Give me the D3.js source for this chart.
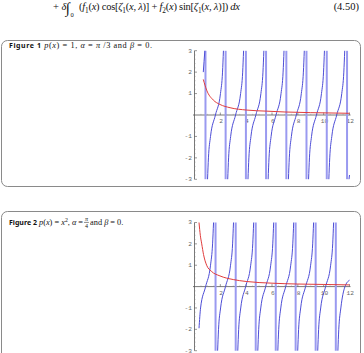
<!DOCTYPE html>
<html><head><meta charset="utf-8">
<script src="https://cdn.jsdelivr.net/npm/d3@7"></script>
<style>html,body{margin:0;padding:0;background:#fff;overflow:hidden}svg{display:block}</style>
</head><body>
<script>
// ---------- data ----------
const xTicks = [2, 4, 6, 8, 10, 12];
const yTicks = [-3, -2, -1, 1, 2, 3];
const yLevels = [-3, -2, -1, 0, 1, 2, 3];

// Figure 1
const fig1RedX = [0.68, 0.94, 1.45, 1.98, 2.75, 4.04, 5.59, 7, 9, 12];
const fig1RedY = [1.66, 1.16, 0.70, 0.49, 0.34, 0.23, 0.18, 0.14, 0.11, 0.08];
const fig1Jumps = [0.85, 2.41, 3.98, 5.54, 7.11, 8.67, 10.24, 11.81];
const fig1HeadX = [0.68, 0.74, 0.80];
const fig1HeadY = [2.0, 2.5, 3.0];
const fig1BranchX = [
  [1.01, 1.08, 1.24, 1.62, 2.01, 2.17, 2.24],
  [2.57, 2.64, 2.80, 3.18, 3.57, 3.73, 3.80],
  [4.14, 4.21, 4.37, 4.75, 5.14, 5.30, 5.37],
  [5.70, 5.77, 5.93, 6.31, 6.70, 6.86, 6.93],
  [7.27, 7.34, 7.50, 7.88, 8.27, 8.43, 8.50],
  [8.83, 8.90, 9.06, 9.44, 9.83, 9.99, 10.06],
  [10.40, 10.47, 10.63, 11.01, 11.40, 11.56, 11.63]
];
const fig1TailX = [11.96, 12.0];
const fig1TailY = [-3.0, -2.8];

// Figure 2
const fig2RedX = [0.35, 0.45, 0.56, 0.7, 0.94, 1.3, 1.97, 3, 4, 6, 8, 10, 12];
const fig2RedY = [3.0, 2.4, 2.0, 1.5, 1.0, 0.72, 0.5, 0.33, 0.24, 0.16, 0.12, 0.1, 0.08];
const fig2Jumps = [1.63, 3.19, 4.74, 6.29, 7.83, 9.38, 10.94];
const fig2HeadX = [0.35, 0.47, 0.86, 1.24, 1.40, 1.475];
const fig2HeadY = [-1.95, -1, 0, 1, 2, 3];
const fig2BranchX = [
  [1.79, 1.86, 2.02, 2.40, 2.79, 2.95, 3.02],
  [3.35, 3.42, 3.58, 3.96, 4.35, 4.51, 4.58],
  [4.90, 4.97, 5.13, 5.51, 5.90, 6.06, 6.13],
  [6.45, 6.52, 6.68, 7.06, 7.45, 7.61, 7.68],
  [7.99, 8.06, 8.22, 8.60, 8.99, 9.15, 9.22],
  [9.54, 9.61, 9.77, 10.15, 10.54, 10.70, 10.77]
];
const fig2TailX = [11.10, 11.17, 11.33, 11.65, 12.0];
const fig2TailY = [-3, -2, -1, 0, 0.3];

// ---------- drawing ----------
const W = 364, H = 353;
const svg = d3.select("body").append("svg").attr("width", W).attr("height", H);

const BLUE = "#4d4dd6", JUMP = "#9a9af0", RED = "#e03c3c", AXIS = "#555", LBL = "#666";

function richText(g, x, y, segs, size, family, anchor) {
  const t = g.append("text").attr("x", x).attr("y", y)
    .attr("font-family", family).attr("font-size", size).attr("fill", "#111")
    .attr("text-anchor", anchor || "start");
  let shift = 0;
  segs.forEach(s => {
    const seg = typeof s === "string" ? {t: s} : s;
    const target = seg.sub ? size * 0.3 : seg.sup ? -size * 0.35 : 0;
    const ts = t.append("tspan").text(seg.t).attr("dy", target - shift);
    shift = target;
    if (seg.i) ts.attr("font-style", "italic");
    if (seg.b) ts.attr("font-weight", "bold");
    if (seg.f) ts.attr("font-family", seg.f);
    if (seg.fs) ts.attr("font-size", seg.fs);
    if (seg.sub || seg.sup) ts.attr("font-size", size * 0.7);
  });
  return t;
}
const SERIF = "'Liberation Serif', serif";
const SANS = "'Noto Sans', sans-serif";

// equation line (cropped page text)
richText(svg, 53, 10, ["+ ", {t: "δ", i: 1}], 10.5, SERIF);
svg.append("text").attr("x", 65.5).attr("y", 13).attr("font-family", SERIF)
  .attr("font-size", 15).attr("font-style", "italic").attr("fill", "#111").text("∫");
svg.append("text").attr("x", 70.5).attr("y", 16.8).attr("font-family", SERIF)
  .attr("font-size", 6.5).attr("fill", "#111").text("0");
richText(svg, 79, 10, [
  "(", {t: "f", i: 1}, {t: "1", sub: 1}, "(", {t: "x", i: 1}, ") cos[", {t: "ζ", i: 1}, {t: "1", sub: 1},
  "(", {t: "x", i: 1}, ", ", {t: "λ", i: 1}, ")] + ", {t: "f", i: 1}, {t: "2", sub: 1}, "(", {t: "x", i: 1},
  ") sin[", {t: "ζ", i: 1}, {t: "1", sub: 1}, "(", {t: "x", i: 1}, ", ", {t: "λ", i: 1}, ")]) ", {t: "dx", i: 1}
], 10.5, SERIF).attr("textLength", 161).attr("lengthAdjust", "spacing");
svg.append("text").attr("x", 359).attr("y", 10).attr("text-anchor", "end")
  .attr("font-family", SERIF).attr("font-size", 10.5).attr("fill", "#111").text("(4.50)");

// boxes
svg.append("rect").attr("x", 1.5).attr("y", 40.5).attr("width", 359).attr("height", 146)
  .attr("rx", 6).attr("fill", "none").attr("stroke", "#8a8a8a").attr("stroke-width", 1);
svg.append("rect").attr("x", 1.5).attr("y", 211.5).attr("width", 359).attr("height", 160)
  .attr("rx", 6).attr("fill", "none").attr("stroke", "#8a8a8a").attr("stroke-width", 1);

// titles
const t1 = richText(svg, 9, 47.8, [{t: "Figure 1", b: 1, f: SANS, fs: 7}, "  ", {t: "p", i: 1}, "(", {t: "x", i: 1}, ") = 1, ",
  {t: "α", i: 1}, " = ", {t: "π", i: 1}, " /3 and ", {t: "β", i: 1}, " = 0."], 8.3, SERIF);
t1.attr("textLength", 143).attr("lengthAdjust", "spacing");

const t2a = richText(svg, 9, 224.5, [{t: "Figure 2", b: 1, f: SANS, fs: 7}, "  ", {t: "p", i: 1}, "(", {t: "x", i: 1}, ") = ",
  {t: "x", i: 1}, {t: "2", sup: 1}, ", ", {t: "α", i: 1}, " = "], 8.3, SERIF);
const wa = t2a.node().getComputedTextLength();
const fx = 9 + wa + 1;
svg.append("text").attr("x", fx + 2.4).attr("y", 221).attr("text-anchor", "middle")
  .attr("font-family", SERIF).attr("font-size", 6).attr("font-style", "italic").attr("fill", "#111").text("π");
svg.append("line").attr("x1", fx).attr("x2", fx + 4.8).attr("y1", 222.4).attr("y2", 222.4)
  .attr("stroke", "#111").attr("stroke-width", 0.5);
svg.append("text").attr("x", fx + 2.4).attr("y", 227.6).attr("text-anchor", "middle")
  .attr("font-family", SERIF).attr("font-size", 6).attr("fill", "#111").text("4");
richText(svg, fx + 6, 224.5, [" and ", {t: "β", i: 1}, " = 0."], 8.3, SERIF);

function drawPlot(cfg) {
  const x = d3.scaleLinear().domain([0, 12]).range([cfg.x0, cfg.x1]);
  const y = d3.scaleLinear().domain([-3, 3]).range([cfg.yBot, cfg.yTop]);
  const g = svg.append("g");
  const clipId = "clip" + cfg.id;
  svg.append("clipPath").attr("id", clipId).append("rect")
    .attr("x", x(0)).attr("y", y(3) - 0.5).attr("width", x(12) - x(0) + 1).attr("height", y(-3) - y(3) + 1);

  // axes
  g.append("line").attr("x1", x(0) - 1.5).attr("x2", x(12) + 1).attr("y1", y(0)).attr("y2", y(0))
    .attr("stroke", AXIS).attr("stroke-width", 0.8);
  g.append("line").attr("x1", x(0)).attr("x2", x(0)).attr("y1", y(-3)).attr("y2", y(3))
    .attr("stroke", AXIS).attr("stroke-width", 0.8);
  // minor ticks
  const xMinor = d3.range(0.5, 12.01, 0.5).filter(v => !xTicks.includes(v));
  g.selectAll(null).data(xMinor).join("line")
    .attr("x1", d => x(d)).attr("x2", d => x(d)).attr("y1", y(0)).attr("y2", y(0) - 1.2)
    .attr("stroke", "#888").attr("stroke-width", 0.4);
  const yMinor = d3.range(-3, 3.001, 0.2).map(v => Math.round(v * 10) / 10).filter(v => Math.abs(v - Math.round(v)) > 0.01);
  g.selectAll(null).data(yMinor).join("line")
    .attr("x1", x(0)).attr("x2", x(0) + 1.2).attr("y1", d => y(d)).attr("y2", d => y(d))
    .attr("stroke", "#888").attr("stroke-width", 0.4);
  // major ticks
  g.selectAll(null).data(xTicks).join("line")
    .attr("x1", d => x(d)).attr("x2", d => x(d)).attr("y1", y(0)).attr("y2", y(0) - 2.5)
    .attr("stroke", AXIS).attr("stroke-width", 0.6);
  g.selectAll(null).data(yTicks).join("line")
    .attr("x1", x(0)).attr("x2", x(0) + 2.5).attr("y1", d => y(d)).attr("y2", d => y(d))
    .attr("stroke", AXIS).attr("stroke-width", 0.6);
  const MONO = "'Liberation Mono', monospace";
  g.selectAll(null).data(xTicks).join("text")
    .attr("x", d => x(d) + 0.8).attr("y", y(0) + 8).attr("text-anchor", "middle")
    .attr("font-family", MONO).attr("font-size", 6.2).attr("fill", LBL).text(d => d);
  g.selectAll(null).data(yTicks).join("text")
    .attr("x", x(0) - 2.5).attr("y", d => y(d) + 1.8).attr("text-anchor", "end")
    .attr("font-family", MONO).attr("font-size", 6.2).attr("fill", LBL).text(d => d);

  const p = svg.append("g").attr("clip-path", `url(#${clipId})`);
  p.selectAll(null).data(cfg.jumps).join("line")
    .attr("x1", d => x(d)).attr("x2", d => x(d)).attr("y1", y(-3)).attr("y2", y(3))
    .attr("stroke", JUMP).attr("stroke-width", 2);
  const line = d3.line().x(d => x(d[0])).y(d => y(d[1])).curve(d3.curveMonotoneX);
  const branches = [];
  branches.push(cfg.headX.map((v, i) => [v, cfg.headY[i]]));
  cfg.branchX.forEach(b => branches.push(b.map((v, i) => [v, yLevels[i]])));
  branches.push(cfg.tailX.map((v, i) => [v, cfg.tailY[i]]));
  p.selectAll(null).data(branches).join("path").attr("d", line)
    .attr("fill", "none").attr("stroke", BLUE).attr("stroke-width", 1);
  p.append("path").datum(cfg.redX.map((v, i) => [v, cfg.redY[i]]))
    .attr("d", line)
    .attr("fill", "none").attr("stroke", RED).attr("stroke-width", 1);
}

drawPlot({id: 1, x0: 194.5, x1: 349.5, yBot: 179.3, yTop: 50.7,
  jumps: fig1Jumps, headX: fig1HeadX, headY: fig1HeadY, branchX: fig1BranchX,
  tailX: fig1TailX, tailY: fig1TailY, redX: fig1RedX, redY: fig1RedY});
drawPlot({id: 2, x0: 194.5, x1: 349.5, yBot: 350.7, yTop: 222.5,
  jumps: fig2Jumps, headX: fig2HeadX, headY: fig2HeadY, branchX: fig2BranchX,
  tailX: fig2TailX, tailY: fig2TailY, redX: fig2RedX, redY: fig2RedY});
</script>
</body></html>
